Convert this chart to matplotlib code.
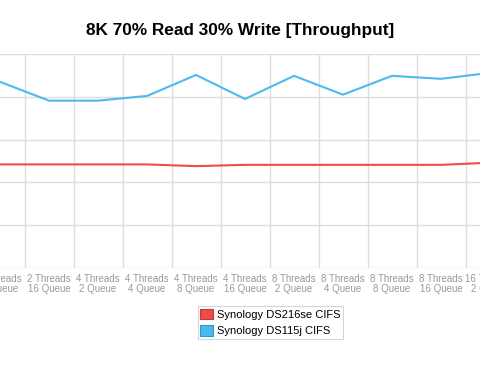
import matplotlib
matplotlib.use("Agg")
import matplotlib.pyplot as plt
import numpy as np

plt.rcParams['font.family'] = ['Liberation Sans', 'DejaVu Sans']

# Categorias visibles (la imagen esta recortada a ambos lados)
categorias = ['2 Threads\n8 Queue', '2 Threads\n16 Queue', '4 Threads\n2 Queue',
              '4 Threads\n4 Queue', '4 Threads\n8 Queue', '4 Threads\n16 Queue',
              '8 Threads\n2 Queue', '8 Threads\n4 Queue', '8 Threads\n8 Queue',
              '8 Threads\n16 Queue', '16 Threads\n2 Queue']
ds216se = [24.2, 24.2, 24.2, 24.2, 23.8, 24.1, 24.1, 24.1, 24.1, 24.1, 24.6]
ds115j = [43.5, 39.1, 39.1, 40.2, 45.1, 39.5, 44.9, 40.5, 44.9, 44.2, 45.6]
y_ticks = [0, 10, 20, 30, 40, 50]

rojo = '#ee4b4b'
azul = '#4dbaee'

fig = plt.figure(figsize=(4.8, 3.78), dpi=100)
# El eje se sale de la figura para imitar el recorte
ax = fig.add_axes([-49 / 480, 1 - 268 / 378, 588 / 480, 214 / 378])

x = np.arange(len(categorias))
ax.plot(x, ds216se, color=rojo, lw=1.5, label='Synology DS216se CIFS')
ax.plot(x, ds115j, color=azul, lw=1.5, label='Synology DS115j CIFS')

ax.set_yticks(y_ticks)
ax.set_xticks(x)
ax.set_xticklabels(categorias, fontsize=7, color='#999999', linespacing=1.1)
ax.set_xticks(np.arange(-0.5, 11, 1), minor=True)
# los limites despues de los ticks (set_xticks los amplia)
ax.set_xlim(-1, 11)
ax.set_ylim(0, 50)
ax.tick_params(axis='both', which='both', length=0)
ax.tick_params(axis='x', pad=4)
ax.grid(True, which='minor', axis='x', color='#dddddd', lw=1)
ax.grid(True, which='major', axis='y', color='#dddddd', lw=1)
for s in ax.spines.values():
    s.set_visible(False)
ax.set_axisbelow(True)

fig.text(0.5, 1 - 30 / 378, '8K 70% Read 30% Write [Throughput]', ha='center',
         va='center', fontsize=12.4, fontweight='bold')

h1 = plt.Rectangle((0, 0), 1, 1, fc=rojo, ec='#c03a3a', lw=0.8)
h2 = plt.Rectangle((0, 0), 1, 1, fc=azul, ec='#3a95c0', lw=0.8)
leg = fig.legend([h1, h2], ['Synology DS216se CIFS', 'Synology DS115j CIFS'],
                 loc='center', bbox_to_anchor=(270.5 / 480, 1 - 322.5 / 378),
                 fontsize=8, frameon=True, fancybox=False, handlelength=1.1,
                 handleheight=1.1, handletextpad=0.4, borderpad=0.2,
                 labelspacing=0.5, borderaxespad=0)
leg.get_frame().set_edgecolor('#cccccc')
leg.get_frame().set_linewidth(0.8)

fig.savefig('out.png', dpi=100)
